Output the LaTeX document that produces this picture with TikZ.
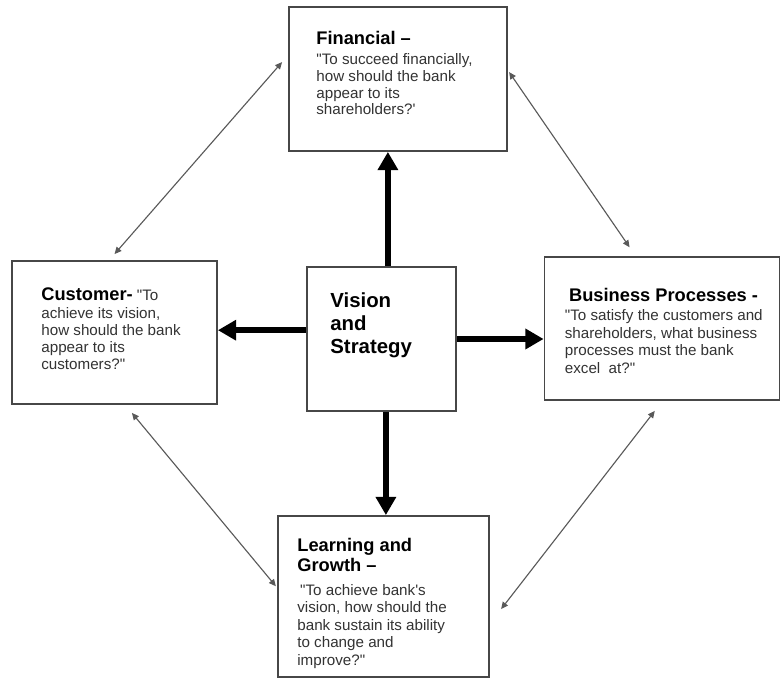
\documentclass[tikz,border=0pt]{standalone}
\usepackage{fontspec}
\newfontfamily\plainsans{Liberation Sans}
\usetikzlibrary{arrows.meta}
\definecolor{boxline}{gray}{0.28}
\definecolor{quotetext}{gray}{0.2}
\definecolor{linkline}{gray}{0.35}
\newcommand{\ttl}[1]{{\fontsize{13}{15.4}\selectfont\bfseries\color{black}#1}}
\tikzset{
    panel/.style={draw=boxline, line width=1.3pt, fill=white, inner sep=0pt},
    paneltext/.style={anchor=north west, inner sep=0pt, align=left, text=quotetext,
        font=\plainsans\fontsize{10.8}{12}\selectfont},
    widetext/.style={paneltext, font=\plainsans\fontsize{10.8}{12.5}\selectfont},
    mainarrow/.style={-{Triangle[length=13pt, width=14pt]}, line width=4.6pt, black},
    linkarrow/.style={{Triangle[length=5pt, width=4.5pt]}-{Triangle[length=5pt, width=4.5pt]},
        draw=linkline, line width=0.8pt}
}
\begin{document}
\begin{tikzpicture}
    \useasboundingbox (0, 0) rectangle (19.575, 16.975);
    \node [panel, minimum width=5.45cm, minimum height=3.6cm] (fin) at (9.95, 15.0) {};
    \node [panel, minimum width=5.125cm, minimum height=3.575cm] (cust) at (2.8625, 8.6625) {};
    \node [panel, minimum width=5.875cm, minimum height=3.575cm] (bus) at (16.55, 8.7625) {};
    \node [panel, minimum width=5.275cm, minimum height=4.025cm] (learn) at (9.5875, 2.0625) {};
    \node [panel, minimum width=3.725cm, minimum height=3.6cm] (vis) at (9.5375, 8.5) {};

    \node [paneltext] (fintext) at ([shift={(0.7, -0.625)}]fin.north west)
        {\ttl{Financial –}\\[2pt] "To succeed financially,\\ how should the bank\\ appear to its\\ shareholders?'};
    \node [paneltext] (custtext) at ([shift={(0.75, -0.675)}]cust.north west)
        {\ttl{Customer-} "To\\[1pt] achieve its vision,\\ how should the bank\\ appear to its\\ customers?"};
    \node [widetext] (bustext) at ([shift={(0.525, -0.8)}]bus.north west)
        {\hspace*{3pt}\ttl{Business Processes -}\\[1pt] "To satisfy the customers and\\ shareholders, what business\\ processes must the bank\\ excel\ \ at?"};
    \node [widetext] (learntext) at ([shift={(0.5, -0.575)}]learn.north west)
        {\ttl{Learning and}\\[2pt] \ttl{Growth –}\\[4pt] \hspace*{2pt}"To achieve bank's\\ vision, how should the\\ bank sustain its ability\\ to change and\\ improve?"};
    \node [paneltext, text=black, font=\plainsans\fontsize{14.5}{16.5}\selectfont\bfseries] (vistext)
        at ([shift={(0.6, -0.65)}]vis.north west) {Vision\\ and\\ Strategy};

    \coordinate (up) at ([xshift=0.16cm]vis.north);
    \coordinate (lft) at ([yshift=0.22cm]vis.west);
    \coordinate (dn) at ([xshift=0.11cm]vis.south);
    \draw [mainarrow] (up) -- (up |- fin.south);
    \draw [mainarrow] (lft) -- (lft -| cust.east);
    \draw [mainarrow] (vis.east) -- (vis.east -| bus.west);
    \draw [mainarrow] (dn) -- (dn |- learn.north);

    \draw [linkarrow] ([shift={(-0.15, -1.4)}]fin.north west) -- ([yshift=0.15cm]cust.north);
    \draw [linkarrow] ([shift={(0.03, -1.65)}]fin.north east) -- ([shift={(2.15, 0.22)}]bus.north west);
    \draw [linkarrow] ([shift={(3.02, -0.2)}]cust.south west) -- ([shift={(-0.03, -1.78)}]learn.north west);
    \draw [linkarrow] ([shift={(2.78, -0.25)}]bus.south west) -- ([shift={(0.28, -2.35)}]learn.north east);
\end{tikzpicture}
\end{document}
